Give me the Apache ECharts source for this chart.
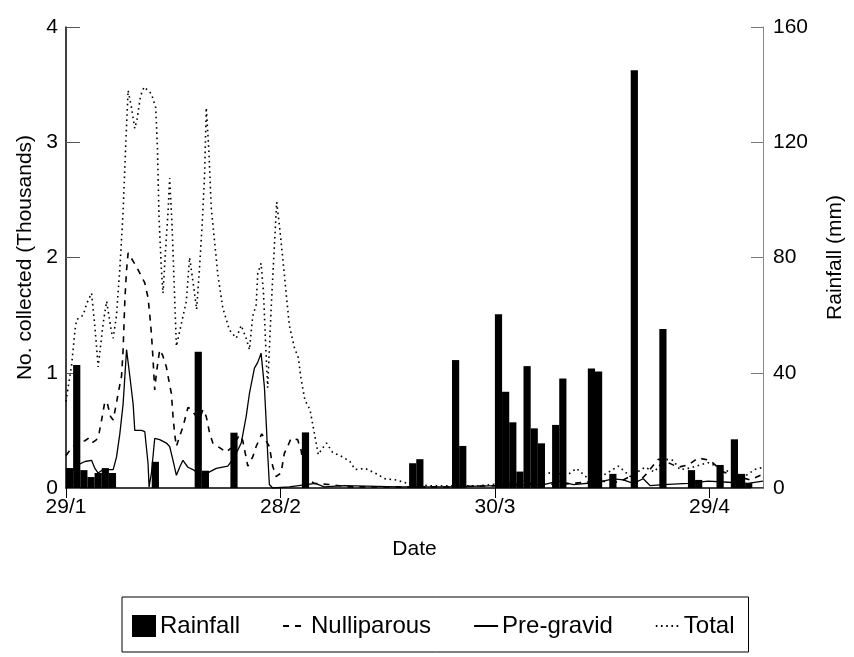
<!DOCTYPE html>
<html>
<head>
<meta charset="utf-8">
<script src="https://cdn.jsdelivr.net/npm/echarts@6/dist/echarts.min.js"></script>
<style>
  html, body { margin: 0; padding: 0; background: #fff; }
  #main { width: 854px; height: 657px; }
</style>
</head>
<body>
<div id="main"></div>
<script>
// days counted from 29/1
var xTickLabels = ['29/1', '28/2', '30/3', '29/4'];

// rainfall (mm), one bar per day
var rainDays = [0, 1, 2, 3, 4, 5, 6, 12, 18, 19, 23, 33, 48, 49, 54, 55, 60, 61, 62, 63, 64, 65, 66, 68, 69, 73, 74, 76, 79, 83, 87, 88, 91, 93, 94, 95];
var rainMm = [6.9, 42.7, 6.2, 3.8, 5.2, 6.9, 5.2, 9.1, 47.3, 6.0, 19.2, 19.3, 8.6, 10.0, 44.4, 14.6, 60.3, 33.4, 22.8, 5.7, 42.3, 20.7, 15.5, 21.9, 38, 41.5, 40.4, 4.9, 145, 55.2, 6.2, 2.8, 8.0, 16.9, 4.9, 1.7];

// numbers collected (thousands)
var nulliDays = [0, 0.79, 1.72, 2.65, 3.11, 3.58, 4.28, 4.64, 4.98, 5.44, 5.76, 6.23, 6.6, 7.07, 7.29, 7.77, 7.99, 8.23, 8.47, 8.69, 9.86, 11.02, 11.48, 11.72, 11.95, 12.18, 12.41, 12.65, 13.11, 13.53, 14.04, 14.27, 14.74, 14.97, 15.2, 15.44, 15.9, 16.36, 17.06, 17.53, 18.23, 18.69, 19.15, 19.62, 20.08, 20.54, 21.48, 22.41, 23.33, 24.27, 24.73, 25.43, 26.12, 26.6, 27.38, 27.89, 28.45, 28.91, 29.39, 30.08, 30.54, 31.0, 31.48, 32.4, 32.87, 33.33, 33.79, 34.73, 36.82, 39.61, 46.58, 53.56, 60.53, 64.71, 68.9, 74.48, 77.27, 78.94, 80.06, 81.17, 82.85, 84.24, 85.63, 87.03, 88.42, 90.1, 91.91, 94.0, 95.68, 97.49];
var nulliVals = [0.28, 0.35, 0.4, 0.41, 0.43, 0.39, 0.42, 0.48, 0.59, 0.75, 0.74, 0.62, 0.59, 0.74, 0.82, 0.97, 1.2, 1.63, 1.89, 2.04, 1.92, 1.78, 1.65, 1.5, 1.34, 1.11, 0.85, 1.0, 1.2, 1.15, 1.05, 0.97, 0.82, 0.62, 0.47, 0.36, 0.45, 0.53, 0.7, 0.68, 0.62, 0.6, 0.68, 0.62, 0.48, 0.39, 0.35, 0.31, 0.36, 0.46, 0.41, 0.19, 0.27, 0.36, 0.47, 0.42, 0.36, 0.19, 0.1, 0.13, 0.3, 0.36, 0.43, 0.42, 0.33, 0.16, 0.08, 0.04, 0.03, 0.01, 0.01, 0.01, 0.02, 0.04, 0.03, 0.06, 0.05, 0.1, 0.05, 0.12, 0.25, 0.22, 0.18, 0.2, 0.26, 0.24, 0.14, 0.1, 0.07, 0.12];

var preDays = [0, 1.02, 1.95, 2.65, 3.58, 4.04, 4.5, 5.2, 6.6, 7.07, 7.53, 7.99, 8.47, 8.93, 9.39, 9.62, 10.56, 11.02, 11.48, 11.62, 11.95, 12.41, 13.11, 14.04, 14.5, 14.97, 15.44, 15.9, 16.36, 17.06, 17.75, 18.23, 19.39, 20.08, 21.02, 22.64, 23.57, 24.51, 25.2, 25.66, 26.36, 26.82, 27.29, 27.75, 27.99, 28.21, 28.45, 28.91, 31.24, 34.87, 36.12, 38.91, 46.58, 53.56, 60.53, 66.81, 68.9, 70.99, 74.48, 76.57, 77.96, 79.36, 80.75, 81.73, 83.54, 87.03, 89.82, 92.61, 95.4, 97.49];
var preVals = [0.17, 0.16, 0.21, 0.23, 0.24, 0.17, 0.13, 0.16, 0.16, 0.27, 0.47, 0.73, 1.2, 0.97, 0.73, 0.5, 0.5, 0.49, 0.21, 0.01, 0.13, 0.43, 0.42, 0.39, 0.36, 0.24, 0.11, 0.18, 0.24, 0.18, 0.16, 0.14, 0.1, 0.14, 0.17, 0.19, 0.27, 0.39, 0.62, 0.82, 1.04, 1.09, 1.17, 0.88, 0.59, 0.3, 0.03, 0, 0.01, 0.04, 0.01, 0.02, 0.01, 0.01, 0.02, 0.03, 0.06, 0.03, 0.05, 0.08, 0.07, 0.04, 0.08, 0.02, 0.03, 0.04, 0.06, 0.05, 0.04, 0.06];

var totalDays = [0, 0.79, 1.26, 1.49, 2.41, 2.89, 3.58, 4.04, 4.5, 5.2, 5.68, 6.37, 6.6, 7.07, 7.29, 7.53, 7.99, 8.37, 8.69, 9.16, 9.62, 9.94, 10.42, 10.92, 11.95, 12.55, 12.79, 13.01, 13.35, 13.57, 13.95, 14.27, 14.5, 14.83, 15.06, 15.44, 16.83, 17.29, 17.85, 18.27, 18.69, 19.07, 19.39, 19.62, 19.99, 20.32, 20.78, 21.24, 21.94, 22.87, 23.81, 24.51, 25.2, 25.66, 26.12, 26.6, 26.82, 27.29, 27.62, 27.96, 28.21, 28.73, 29.15, 29.47, 29.85, 30.31, 30.78, 31.24, 31.94, 32.5, 32.87, 33.43, 34.13, 34.73, 35.29, 35.8, 36.44, 37.28, 38.68, 39.71, 40.45, 41.84, 43.24, 44.63, 46.21, 47.74, 50.77, 57.74, 63.32, 67.5, 70.29, 71.41, 73.08, 74.9, 77.27, 78.94, 80.99, 82.29, 83.78, 84.94, 85.87, 87.03, 88.19, 89.82, 90.98, 92.37, 94.94, 96.33, 97.49];
var totalVals = [0.75, 1.07, 1.37, 1.46, 1.5, 1.6, 1.69, 1.4, 1.05, 1.43, 1.62, 1.35, 1.3, 1.5, 1.7, 1.9, 2.4, 3.0, 3.45, 3.3, 3.12, 3.2, 3.4, 3.48, 3.42, 3.3, 2.95, 2.35, 1.89, 1.69, 2.09, 2.39, 2.69, 2.29, 1.89, 1.23, 1.62, 2.0, 1.75, 1.55, 1.92, 2.31, 2.72, 3.3, 2.92, 2.43, 2.14, 1.85, 1.56, 1.37, 1.3, 1.41, 1.3, 1.2, 1.49, 1.59, 1.86, 1.95, 1.7, 1.2, 0.87, 1.6, 2.1, 2.48, 2.28, 2.0, 1.7, 1.41, 1.22, 1.13, 0.95, 0.76, 0.68, 0.48, 0.29, 0.34, 0.39, 0.31, 0.27, 0.23, 0.16, 0.17, 0.13, 0.08, 0.07, 0.04, 0.02, 0.02, 0.05, 0.13, 0.12, 0.17, 0.08, 0.1, 0.19, 0.1, 0.18, 0.14, 0.25, 0.24, 0.16, 0.17, 0.19, 0.22, 0.19, 0.15, 0.1, 0.16, 0.18];

function pairs(xs, ys) {
  return xs.map(function (x, i) { return [x, ys[i]]; });
}

var font = 'Liberation Sans, Arial, Helvetica, sans-serif';
var myChart = echarts.init(document.getElementById('main'), null, { renderer: 'canvas' });

// line legend entries: hide the marker circle, keep the line
var noMarker = { opacity: 0 };

var option = {
  animation: false,
  backgroundColor: '#fff',
  textStyle: { fontFamily: font, color: '#000' },
  grid: { left: 66, right: 89, top: 27, bottom: 169 },
  legend: {
    left: 122,
    top: 597,
    padding: [17, 14, 14, 10],
    borderColor: '#000',
    borderWidth: 1,
    itemWidth: 24,
    itemHeight: 22,
    itemGap: 42,
    textStyle: { fontSize: 24, color: '#000', fontFamily: font, padding: [0, 0, 0, -1] },
    data: [
      { name: 'Rainfall', icon: 'rect' },
      { name: 'Nulliparous', itemStyle: noMarker },
      { name: 'Pre-gravid', itemStyle: noMarker },
      { name: 'Total', itemStyle: noMarker }
    ]
  },
  xAxis: {
    type: 'value',
    min: 0,
    max: 97.5,
    interval: 30,
    name: 'Date',
    nameLocation: 'middle',
    nameGap: 51,
    nameTextStyle: { fontSize: 21, color: '#000' },
    splitLine: { show: false },
    axisLine: { lineStyle: { color: '#000', width: 1.5 } },
    axisTick: { inside: false, length: 10, lineStyle: { color: '#000' } },
    axisLabel: {
      fontSize: 21, color: '#000', margin: 9,
      showMaxLabel: false,
      formatter: function (v) { return xTickLabels[Math.round(v / 30)] || ''; }
    }
  },
  yAxis: [
    {
      type: 'value',
      min: 0,
      max: 4,
      interval: 1,
      name: 'No. collected (Thousands)',
      nameLocation: 'middle',
      nameRotate: 90,
      nameGap: 24,
      nameTextStyle: { fontSize: 21, color: '#000' },
      splitLine: { show: false },
      axisLine: { show: true, lineStyle: { color: '#000', width: 1.5 } },
      axisTick: { show: true, inside: true, length: 14, lineStyle: { color: '#555' } },
      axisLabel: { fontSize: 21, color: '#000', margin: 8 }
    },
    {
      type: 'value',
      min: 0,
      max: 160,
      interval: 40,
      position: 'right',
      name: 'Rainfall (mm)',
      nameLocation: 'middle',
      nameRotate: 90,
      nameGap: 62,
      nameTextStyle: { fontSize: 21, color: '#000' },
      splitLine: { show: false },
      axisLine: { show: true, lineStyle: { color: '#888', width: 1 } },
      axisTick: { show: true, inside: true, length: 12, lineStyle: { color: '#777' } },
      axisLabel: { fontSize: 21, color: '#000', margin: 10 }
    }
  ],
  series: [
    {
      name: 'Rainfall',
      type: 'bar',
      yAxisIndex: 1,
      barWidth: 7.2,
      itemStyle: { color: '#000' },
      data: rainDays.map(function (d, i) { return [d + 0.5, rainMm[i]]; })
    },
    {
      name: 'Nulliparous',
      type: 'line',
      symbol: 'none',
      itemStyle: { color: '#000' },
      lineStyle: { color: '#000', width: 1.6, type: [6, 6] },
      data: pairs(nulliDays, nulliVals)
    },
    {
      name: 'Pre-gravid',
      type: 'line',
      symbol: 'none',
      itemStyle: { color: '#000' },
      lineStyle: { color: '#000', width: 1.3 },
      data: pairs(preDays, preVals)
    },
    {
      name: 'Total',
      type: 'line',
      symbol: 'none',
      itemStyle: { color: '#000' },
      lineStyle: { color: '#000', width: 1.6, type: [1.6, 3.6] },
      data: pairs(totalDays, totalVals)
    }
  ]
};

myChart.setOption(option, true);
</script>
</body>
</html>
